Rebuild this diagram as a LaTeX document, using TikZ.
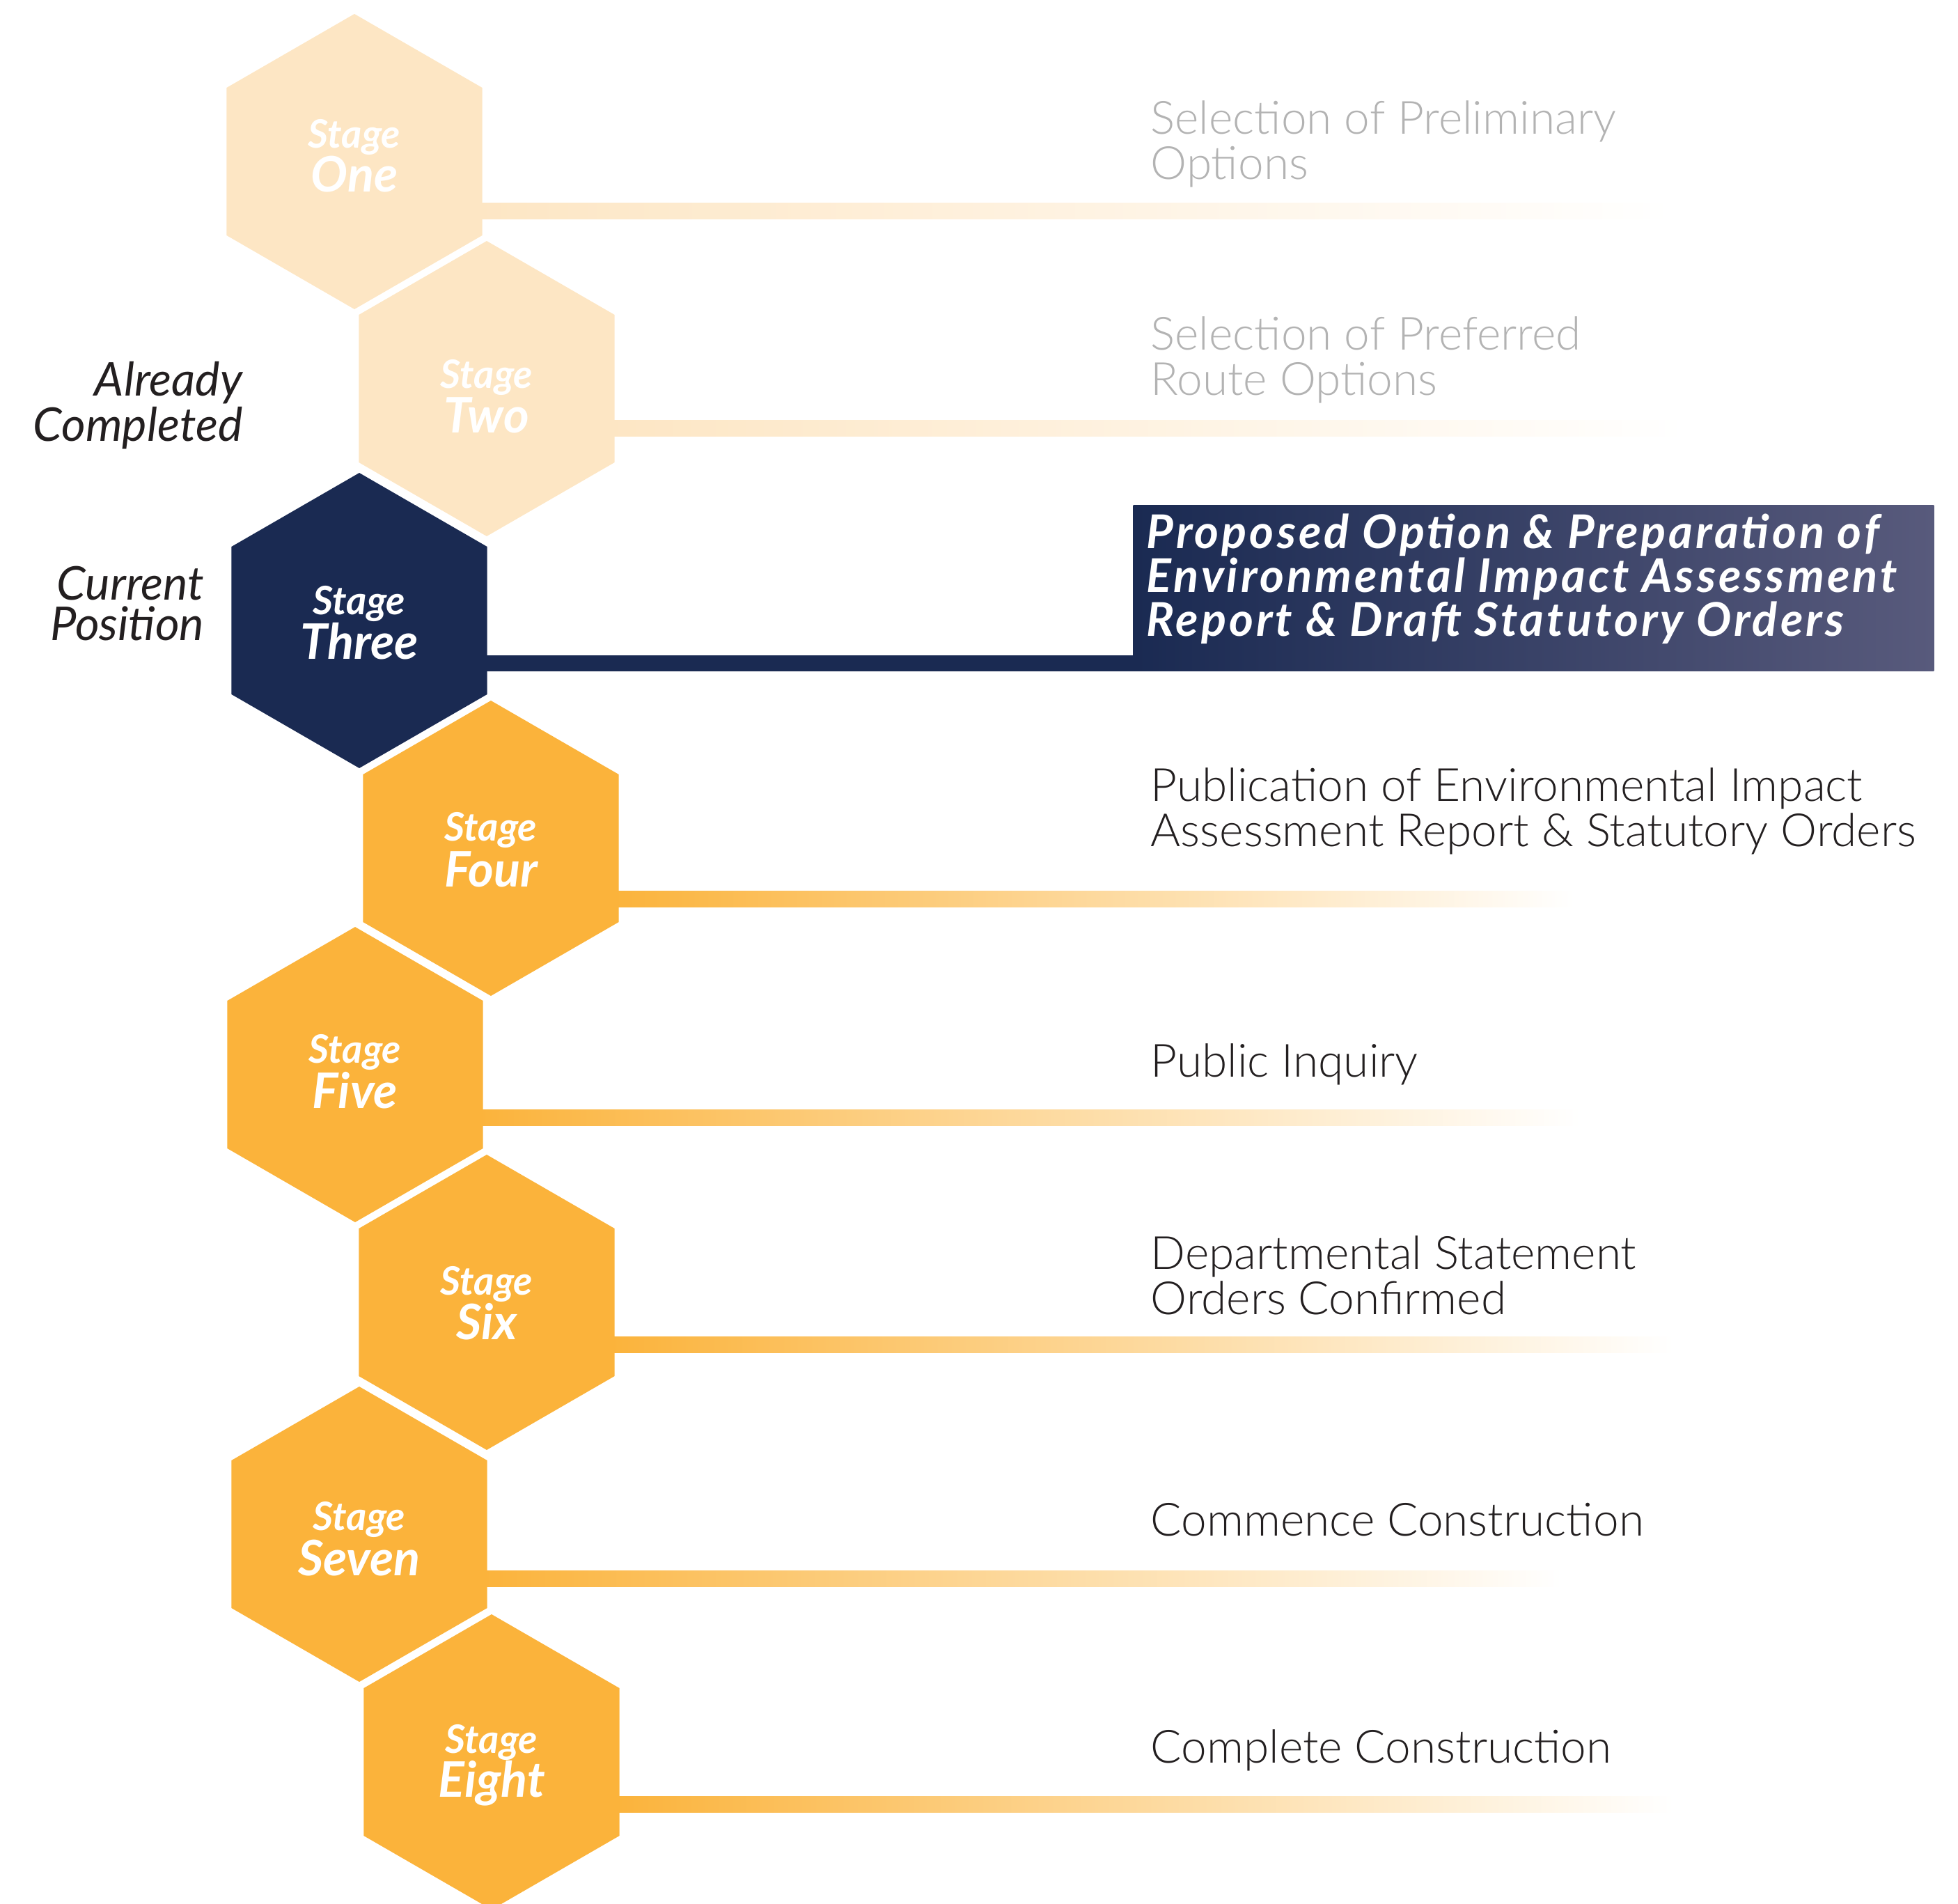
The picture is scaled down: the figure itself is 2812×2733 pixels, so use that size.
\documentclass[tikz,border=0pt]{standalone}
\usepackage{fontspec}
\setmainfont{Lato}
\newfontfamily\lightfont{Lato Light}
\newfontfamily\boxfont{Lato}[LetterSpace=6]
\usetikzlibrary{calc}
\definecolor{navy}{HTML}{1A2A52}
\definecolor{orng}{HTML}{FBB33B}
\definecolor{pale}{HTML}{FDE6C4}
\definecolor{grayt}{HTML}{B3B3B3}
\definecolor{inkk}{HTML}{231F20}
\definecolor{boxend}{HTML}{585A7C}
\tikzset{
  stg/.style={text=white, font=\fontsize{16}{16}\selectfont\bfseries\itshape, anchor=base, inner sep=0},
  stgname/.style={text=white, font=\fontsize{20}{20}\selectfont\bfseries\itshape, anchor=base, inner sep=0},
  desc/.style={anchor=base west, inner sep=0, align=left, font=\lightfont\fontsize{18.7}{18.3}\selectfont},
  side/.style={anchor=base east, inner sep=0, align=right, text=inkk, font=\fontsize{19}{16.4}\selectfont\itshape},
  boxtext/.style={anchor=base west, inner sep=0, align=left, text=white, font=\boxfont\fontsize{19}{17.9}\selectfont\bfseries\itshape},
}
\begin{document}
\begin{tikzpicture}[x=0.01cm,y=-0.01cm]
\useasboundingbox (0,0) rectangle (2812,2733);
% hexagon centres
\foreach \n/\x/\y in {1/509/232,2/699/558,3/516/891,4/705/1218,5/510/1543,6/699/1870,7/516/2203,8/706/2530}{
  \coordinate (c\n) at (\x,\y);
}
% highlighted box
\node[inner sep=0, minimum width=11.49cm, minimum height=2.38cm, anchor=north west,
      left color=navy, middle color=navy!82!boxend, right color=boxend] (box3) at (1627,725) {};
% connectors (drawn beneath the hexagons)
\foreach \n/\dy/\e/\col in {1/71/2403/pale,2/57/2421/pale,4/73/2260/orng,5/62/2269/orng,6/61/2403/orng,7/64/2242/orng,8/61/2403/orng}{
  \path (c\n) ++(175,\dy) coordinate (a\n);
  \coordinate (z\n) at (\e,0 |- a\n);
  \shade[left color=\col, right color=white] ($(a\n)+(0,-11.5)$) rectangle ($(z\n)+(0,11.5)$);
}
\path (c3) ++(175,61) coordinate (a3);
\fill[navy] ($(a3)+(0,-11.5)$) rectangle ($(box3.west |- a3)+(2,11.5)$);
% hexagons
\foreach \n/\col in {1/pale,2/pale,3/navy,4/orng,5/orng,6/orng,7/orng,8/orng}{
  \fill[\col] ($(c\n)+(90:212)$) -- ($(c\n)+(30:212)$) -- ($(c\n)+(-30:212)$) -- ($(c\n)+(-90:212)$) -- ($(c\n)+(-150:212)$) -- ($(c\n)+(150:212)$) -- cycle;
}
% stage labels
\node[stg] (s1a) at ($(c1)+(0,-20)$) {Stage};
\node[stgname] (s1) at ($(c1)+(0,43)$) {One};
\node[stg] (s2a) at ($(c2)+(0,-1)$) {Stage};
\node[stgname] (s2) at ($(c2)+(0,63)$) {Two};
\node[stg] (s3a) at ($(c3)+(0,-9)$) {Stage};
\node[stgname] (s3) at ($(c3)+(0,55)$) {Three};
\node[stg] (s4a) at ($(c4)+(0,-11)$) {Stage};
\node[stgname] (s4) at ($(c4)+(0,55)$) {Four};
\node[stg] (s5a) at ($(c5)+(0,-17)$) {Stage};
\node[stgname] (s5) at ($(c5)+(0,48)$) {Five};
\node[stg] (s6a) at ($(c6)+(0,-11)$) {Stage};
\node[stgname] (s6) at ($(c6)+(0,53)$) {Six};
\node[stg] (s7a) at ($(c7)+(0,-6)$) {Stage};
\node[stgname] (s7) at ($(c7)+(0,59)$) {Seven};
\node[stg] (s8a) at ($(c8)+(0,-13)$) {Stage};
\node[stgname] (s8) at ($(c8)+(0,50)$) {Eight};
% side labels (base = last line)
\node[side] (lA) at (349,633) {Already\\Completed};
\node[side] (lC) at (294,919) {Current\\Position};
% descriptions (base = last line)
\node[desc, text=grayt] (t1) at (1652,257) {Selection of Preliminary\\Options};
\node[desc, text=grayt] (t2) at (1652,567) {Selection of Preferred\\Route Options};
\node[boxtext] (t3) at (1646,913) {Proposed Option \& Preparation of\\Environmental Impact Assessment\\Report \& Draft Statutory Orders};
\node[desc, text=inkk] (t4) at (1652,1215) {Publication of Environmental Impact\\Assessment Report \& Statutory Orders};
\node[desc, text=inkk] (t5) at (1652,1546) {Public Inquiry};
\node[desc, text=inkk] (t6) at (1652,1887) {Departmental Statement\\Orders Confirmed};
\node[desc, text=inkk] (t7) at (1652,2205) {Commence Construction};
\node[desc, text=inkk] (t8) at (1652,2531) {Complete Construction};
\end{tikzpicture}
\end{document}
